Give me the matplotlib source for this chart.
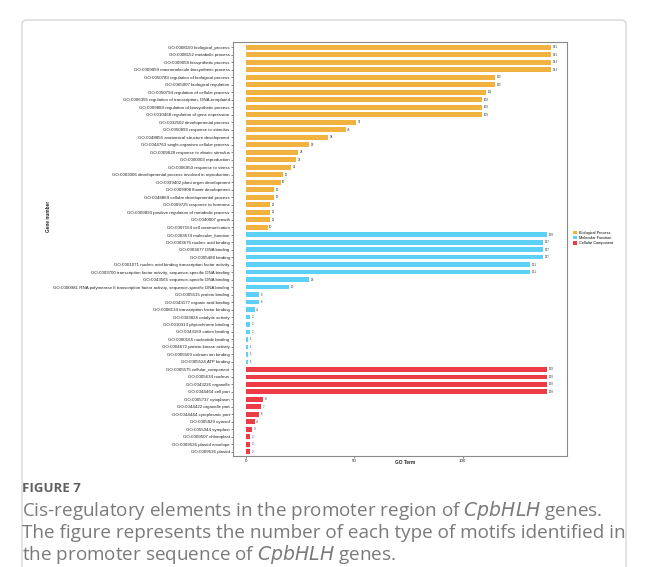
import matplotlib
matplotlib.use("Agg")
import matplotlib.pyplot as plt
from matplotlib.patches import Patch, FancyBboxPatch

# GO terms and gene counts per ontology
bp_terms = [
    "GO:0008150 biological_process",
    "GO:0008152 metabolic process",
    "GO:0009058 biosynthetic process",
    "GO:0009059 macromolecule biosynthetic process",
    "GO:0050789 regulation of biological process",
    "GO:0065007 biological regulation",
    "GO:0050794 regulation of cellular process",
    "GO:0006355 regulation of transcription, DNA-templated",
    "GO:0009889 regulation of biosynthetic process",
    "GO:0010468 regulation of gene expression",
    "GO:0032502 developmental process",
    "GO:0050896 response to stimulus",
    "GO:0048856 anatomical structure development",
    "GO:0044763 single-organism cellular process",
    "GO:0009628 response to abiotic stimulus",
    "GO:0000003 reproduction",
    "GO:0006950 response to stress",
    "GO:0003006 developmental process involved in reproduction",
    "GO:0099402 plant organ development",
    "GO:0009908 flower development",
    "GO:0048869 cellular developmental process",
    "GO:0009725 response to hormone",
    "GO:0009893 positive regulation of metabolic process",
    "GO:0040007 growth",
    "GO:0007154 cell communication",
]
bp_counts = [141, 141, 141, 141, 115, 115, 111, 109, 109, 109,
             51, 46, 38, 29, 24, 23, 21, 17, 16, 13, 13, 11, 11, 11, 10]

mf_terms = [
    "GO:0003674 molecular_function",
    "GO:0003676 nucleic acid binding",
    "GO:0003677 DNA binding",
    "GO:0005488 binding",
    "GO:0001071 nucleic acid binding transcription factor activity",
    "GO:0003700 transcription factor activity, sequence-specific DNA binding",
    "GO:0043565 sequence-specific DNA binding",
    "GO:0000981 RNA polymerase II transcription factor activity, sequence-specific DNA binding",
    "GO:0005515 protein binding",
    "GO:0043177 organic acid binding",
    "GO:0008134 transcription factor binding",
    "GO:0003824 catalytic activity",
    "GO:0010313 phytochrome binding",
    "GO:0043169 cation binding",
    "GO:0000166 nucleotide binding",
    "GO:0004672 protein kinase activity",
    "GO:0005509 calcium ion binding",
    "GO:0005524 ATP binding",
]
mf_counts = [139, 137, 137, 137, 131, 131, 29, 20, 6, 6, 4, 2, 2, 2, 1, 1, 1, 1]

cc_terms = [
    "GO:0005575 cellular_component",
    "GO:0005634 nucleus",
    "GO:0043226 organelle",
    "GO:0044464 cell part",
    "GO:0005737 cytoplasm",
    "GO:0044422 organelle part",
    "GO:0044444 cytoplasmic part",
    "GO:0005829 cytosol",
    "GO:0055044 symplast",
    "GO:0009507 chloroplast",
    "GO:0009526 plastid envelope",
    "GO:0009536 plastid",
]
cc_counts = [139, 139, 139, 139, 8, 7, 6, 4, 3, 2, 2, 2]

groups = ["Biological Process", "Molecular Function", "Cellular Component"]
group_colors = ["#F2B23F", "#5CD0F5", "#EE3B48"]
x_ticks = [0, 50, 100]

W, H = 648, 567
fig = plt.figure(figsize=(W / 100, H / 100), dpi=100)
fig.patch.set_facecolor("white")

# light frame around the figure block (runs past the bottom edge)
frame = FancyBboxPatch((22 / W, 1 - 600 / H), (626 - 22) / W, (600 - 20) / H,
                       boxstyle="round,pad=0,rounding_size=0.008",
                       transform=fig.transFigure, facecolor="none",
                       edgecolor="#d6d6d6", linewidth=1.0)
fig.patches.append(frame)

ax = fig.add_axes([233 / W, 1 - 456 / H, (567.3 - 233) / W, (456 - 42) / H])

terms = bp_terms + mf_terms + cc_terms
counts = bp_counts + mf_counts + cc_counts
colors = ([group_colors[0]] * len(bp_terms) + [group_colors[1]] * len(mf_terms)
          + [group_colors[2]] * len(cc_terms))
ypos = list(range(len(terms)))

ax.barh(ypos, counts, height=0.65, color=colors, edgecolor="none")
for y, v in zip(ypos, counts):
    ax.text(v + 0.7, y, str(v), fontsize=2.2, va="center", ha="left",
            color="#333333", family="Liberation Sans")

ax.set_ylim(len(terms) - 1 + 0.55, -0.7)
ax.set_xlim(-6, 148.3)
ax.set_yticks(ypos)
ax.set_yticklabels(terms, fontsize=3.2, family="Liberation Sans", color="#222222")
ax.set_xticks(x_ticks)
ax.set_xticklabels([str(t) for t in x_ticks], fontsize=3.2,
                   family="Liberation Sans", color="#222222")
ax.tick_params(axis="both", length=1.5, width=0.5, pad=1, color="#555555")
for s in ax.spines.values():
    s.set_color("#8a8a8a")
    s.set_linewidth(0.8)

fig.text(405 / W, 1 - 463 / H, "GO Term", fontsize=3.4, fontweight="bold",
         family="Liberation Sans", ha="center", va="center", color="#222222")
fig.text(48 / W, 1 - 216 / H, "Gene number", fontsize=3.4, fontweight="bold",
         family="Liberation Sans", ha="center", va="center", rotation=90,
         color="#222222")

handles = [Patch(facecolor=c, edgecolor="none") for c in group_colors]
fig.legend(handles, groups, loc="center left",
           bbox_to_anchor=(571 / W, 1 - 238 / H),
           prop={"family": "Liberation Sans", "size": 2.8},
           frameon=False, handlelength=1.0, handleheight=1.0,
           handletextpad=0.5, labelspacing=0.3, borderpad=0)

# caption below the chart
cap_color = "#7a7a7a"
cap_size = 13.6
fig.text(22 / W, 1 - 488 / H, "FIGURE 7", fontsize=9.5, fontweight="bold",
         family="Open Sans", ha="left", va="center", color="#606060")
fig.text(22 / W, 1 - 511 / H,
         r"Cis-regulatory elements in the promoter region of $\it{CpbHLH}$ genes.",
         fontsize=cap_size, family="Open Sans", ha="left", va="center", color=cap_color)
fig.text(22 / W, 1 - 533 / H,
         "The figure represents the number of each type of motifs identified in",
         fontsize=cap_size, family="Open Sans", ha="left", va="center", color=cap_color)
fig.text(22 / W, 1 - 554 / H,
         r"the promoter sequence of $\it{CpbHLH}$ genes.",
         fontsize=cap_size, family="Open Sans", ha="left", va="center", color=cap_color)

fig.savefig("out.png", dpi=100, facecolor="white")
